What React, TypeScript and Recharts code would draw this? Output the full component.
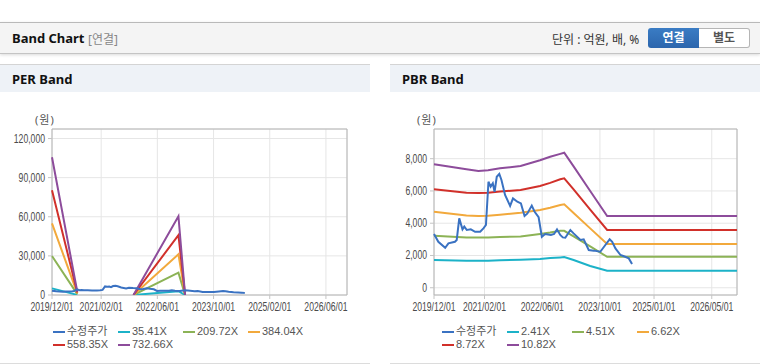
import React from 'react';
import { LineChart, Line, XAxis, YAxis, CartesianGrid, ReferenceArea } from 'recharts';

// months counted from 2019/12
const priceMonths = [0, 1.2, 3.1, 4, 5.8, 6.3, 7, 7.9, 8.4, 9.1, 10.2, 11.4, 12.8, 13.7, 14.4, 15.1, 15.7, 16.3, 16.8, 17.4, 18.1, 18.7, 19.7, 21.1, 21.9, 23.1, 24.1, 25.1, 25.9, 27.1, 27.9, 29, 29.9, 30.8, 32.4, 33.3, 34.1, 35, 35.7, 36.4, 37.8, 38.7, 40.6, 41.5, 42.9, 44.3, 46.1, 47.5, 48.7, 49.4, 50.3, 51.7, 53, 54, 54.9];
const priceValues = [3330, 2850, 2480, 2750, 2850, 2960, 4300, 3620, 3790, 3580, 3620, 3470, 3470, 3680, 3890, 6570, 6270, 6470, 5950, 6880, 7050, 6680, 5750, 5070, 5540, 5330, 5230, 4450, 4610, 5090, 4710, 4370, 3160, 3330, 3270, 3330, 3620, 3270, 3120, 3100, 3580, 3370, 2960, 3000, 2340, 2300, 2230, 2650, 3000, 2850, 2440, 2030, 1920, 1820, 1470];

const perBandMonths = [0, 7.2, 15, 23.2, 36, 37.9];
const per3541 = [5100, 120, null, 0, 2900, 0];
const per20972 = [29900, 710, null, 0, 17100, 0];
const per38404 = [54900, 1300, null, 0, 31200, 0];
const per55835 = [80400, 1900, null, 0, 45900, 0];
const per73266 = [105600, 2500, null, 0, 60400, 0];

const pbrBandMonths = [0, 9, 12.3, 15, 18.3, 24, 29.4, 32.2, 35, 36.1, 38.7, 43.3, 48, 84];
const pbr241 = [1720, 1680, 1670, 1670, 1700, 1740, 1780, 1840, 1880, 1900, 1720, 1350, 1050, 1050];
const pbr451 = [3220, 3120, 3110, 3120, 3140, 3180, 3330, 3420, 3530, 3530, 3190, 2560, 1920, 1920];
const pbr662 = [4710, 4480, 4440, 4470, 4530, 4650, 4820, 4960, 5130, 5170, 4630, 3680, 2710, 2710];
const pbr872 = [6100, 5890, 5880, 5890, 5960, 6060, 6310, 6500, 6720, 6780, 6100, 4840, 3580, 3580];
const pbr1082 = [7650, 7340, 7240, 7280, 7400, 7550, 7900, 8120, 8300, 8370, 7520, 6000, 4450, 4450];

const perTickMonths = [0, 14, 30, 46, 62, 78];
const perTickLabels = ['2019/12/01', '2021/02/01', '2022/06/01', '2023/10/01', '2025/02/01', '2026/06/01'];
const pbrTickMonths = [0, 14, 30, 46, 61, 77];
const pbrTickLabels = ['2019/12/01', '2021/02/01', '2022/06/01', '2023/10/01', '2025/01/01', '2026/05/01'];
const perYTicks = [0, 30000, 60000, 90000, 120000];
const pbrYTicks = [0, 2000, 4000, 6000, 8000];

const priceName = '수정주가';
const perBandNames = ['35.41X', '209.72X', '384.04X', '558.35X', '732.66X'];
const pbrBandNames = ['2.41X', '4.51X', '6.62X', '8.72X', '10.82X'];
const priceColor = '#3a72c2';
const bandColors = ['#1cb2c8', '#8cb356', '#f2a93c', '#d1302a', '#8d4c9b'];

const uiFont = "'Noto Sans', 'Noto Sans CJK KR', sans-serif";
const tickFont = "'Liberation Sans', Arial, sans-serif";

const toPoints = (months: number[], values: (number | null)[]) =>
  months.map((m, i) => ({ m, v: values[i] }));

// the original uses a narrow bitmap-ish font, so squeeze Liberation Sans horizontally
function NarrowTick(props: any) {
  const { x, y, payload, textAnchor, tickFormatter, dy } = props;
  const label = tickFormatter ? tickFormatter(payload.value, payload.index) : String(payload.value);
  return (
    <g transform={`translate(${x},${y})`}>
      <text transform="scale(0.72,1)" textAnchor={textAnchor} dy={dy} fill="#4a4a4a" fontSize={12} fontFamily={tickFont}>
        {label}
      </text>
    </g>
  );
}

type PanelProps = {
  title: string;
  left: number;
  bandNames: string[];
  bandMonths: number[];
  bands: (number | null)[][];
  yTicks: number[];
  yDomain: [number, number];
  yWidth: number;
  xTicks: number[];
  xLabels: string[];
  legendLeft: number;
};

function BandPanel(p: PanelProps) {
  const labelOf = (m: number) => p.xLabels[p.xTicks.indexOf(m)] ?? '';
  const legendItems = [{ name: priceName, color: priceColor }].concat(
    p.bandNames.map((n, i) => ({ name: n, color: bandColors[i] }))
  );
  return (
    <div style={{ position: 'absolute', left: p.left, top: 64, width: 370, height: 299, borderBottom: '1px solid #dcdcdc', background: '#fff' }}>
      <div style={{ height: 27, borderTop: '1px solid #d4d4d4', background: '#eef2f7', fontWeight: 700, fontSize: 13, lineHeight: '29px', paddingLeft: 12, color: '#111' }}>
        {p.title}
      </div>
      <div style={{ position: 'absolute', left: p.yWidth - 17, top: 47, fontSize: 11, color: '#555', fontFamily: uiFont, letterSpacing: 1 }}>(원)</div>
      <div style={{ position: 'absolute', left: 0, top: 36 }}>
        <LineChart width={370} height={220} margin={{ top: 29, right: 23, left: 0, bottom: 0 }}>
          <CartesianGrid stroke="#e6e6e6" />
          <XAxis
            type="number"
            dataKey="m"
            domain={[0, 84]}
            ticks={p.xTicks}
            tickFormatter={labelOf}
            height={25}
            axisLine={false}
            tickSize={4}
            tickMargin={2}
            tickLine={{ stroke: '#c4c4c4' }}
            tick={(t: any) => <NarrowTick {...t} textAnchor="middle" dy={10} tickFormatter={labelOf} />}
            interval={0}
          />
          <YAxis
            type="number"
            domain={p.yDomain}
            ticks={p.yTicks}
            width={p.yWidth}
            allowDataOverflow
            axisLine={false}
            tickSize={4}
            tickMargin={3}
            tickLine={{ stroke: '#c4c4c4' }}
            tick={(t: any) => (
              <NarrowTick {...t} textAnchor="end" dy={4} tickFormatter={(v: number) => v.toLocaleString('en-US')} />
            )}
          />
          <ReferenceArea x1={0} x2={84} y1={p.yDomain[0]} y2={p.yDomain[1]} fill="none" stroke="#b4b4b4" strokeWidth={1} />
          {p.bands.map((vals, i) => (
            <Line
              key={p.bandNames[i]}
              data={toPoints(p.bandMonths, vals)}
              dataKey="v"
              type="linear"
              stroke={bandColors[i]}
              strokeWidth={2}
              dot={false}
              isAnimationActive={false}
            />
          ))}
          <Line
            data={toPoints(priceMonths, priceValues)}
            dataKey="v"
            type="linear"
            stroke={priceColor}
            strokeWidth={2}
            dot={false}
            isAnimationActive={false}
          />
        </LineChart>
      </div>
      <div style={{ position: 'absolute', left: p.legendLeft, top: 261, width: 270, display: 'flex', flexWrap: 'wrap', fontSize: 11, lineHeight: '13.3px', color: '#555', fontFamily: "'Liberation Sans', 'Noto Sans CJK KR', sans-serif" }}>
        {legendItems.map((it) => (
          <div key={it.name} style={{ width: 65, display: 'flex', alignItems: 'center', whiteSpace: 'nowrap' }}>
            <span style={{ display: 'inline-block', width: 12, height: 2, background: it.color, marginRight: 2 }} />
            {it.name}
          </div>
        ))}
      </div>
    </div>
  );
}

export default function App() {
  return (
    <div style={{ position: 'relative', width: 760, height: 364, background: '#fff', fontFamily: uiFont, overflow: 'hidden' }}>
      <style>{'body{margin:0}'}</style>
      <div style={{ position: 'absolute', left: 0, top: 22, width: 760, height: 30, background: '#f4f4f4', borderTop: '1px solid #b9b9b9', borderBottom: '1px solid #c4c4c4', boxShadow: '0 1px 3px rgba(0,0,0,0.15)' }}>
        <span style={{ position: 'absolute', left: 12, top: 6, fontSize: 13, fontWeight: 700, color: '#111' }}>Band Chart</span>
        <span style={{ position: 'absolute', left: 88, top: 7, fontSize: 12, color: '#888' }}>[연결]</span>
        <span style={{ position: 'absolute', left: 552, top: 7, fontSize: 12, color: '#333' }}>단위 : 억원, 배, %</span>
        <div style={{ position: 'absolute', left: 648, top: 5, width: 103, height: 20, display: 'flex', fontSize: 12, fontWeight: 700, lineHeight: '20px', textAlign: 'center' }}>
          <div style={{ width: 51, background: 'linear-gradient(#3a7cc4, #2c66ad)', color: '#fff', borderRadius: '3px 0 0 3px' }}>연결</div>
          <div style={{ width: 50, background: '#fff', color: '#555', border: '1px solid #b5b5b5', borderLeft: 'none', height: 18, lineHeight: '18px', borderRadius: '0 3px 3px 0' }}>별도</div>
        </div>
      </div>
      <BandPanel
        title="PER Band"
        left={0}
        bandNames={perBandNames}
        bandMonths={perBandMonths}
        bands={[per3541, per20972, per38404, per55835, per73266]}
        yTicks={perYTicks}
        yDomain={[0, 127300]}
        yWidth={52}
        xTicks={perTickMonths}
        xLabels={perTickLabels}
        legendLeft={53}
      />
      <BandPanel
        title="PBR Band"
        left={390}
        bandNames={pbrBandNames}
        bandMonths={pbrBandMonths}
        bands={[pbr241, pbr451, pbr662, pbr872, pbr1082]}
        yTicks={pbrYTicks}
        yDomain={[-450, 9840]}
        yWidth={44}
        xTicks={pbrTickMonths}
        xLabels={pbrTickLabels}
        legendLeft={52}
      />
    </div>
  );
}
